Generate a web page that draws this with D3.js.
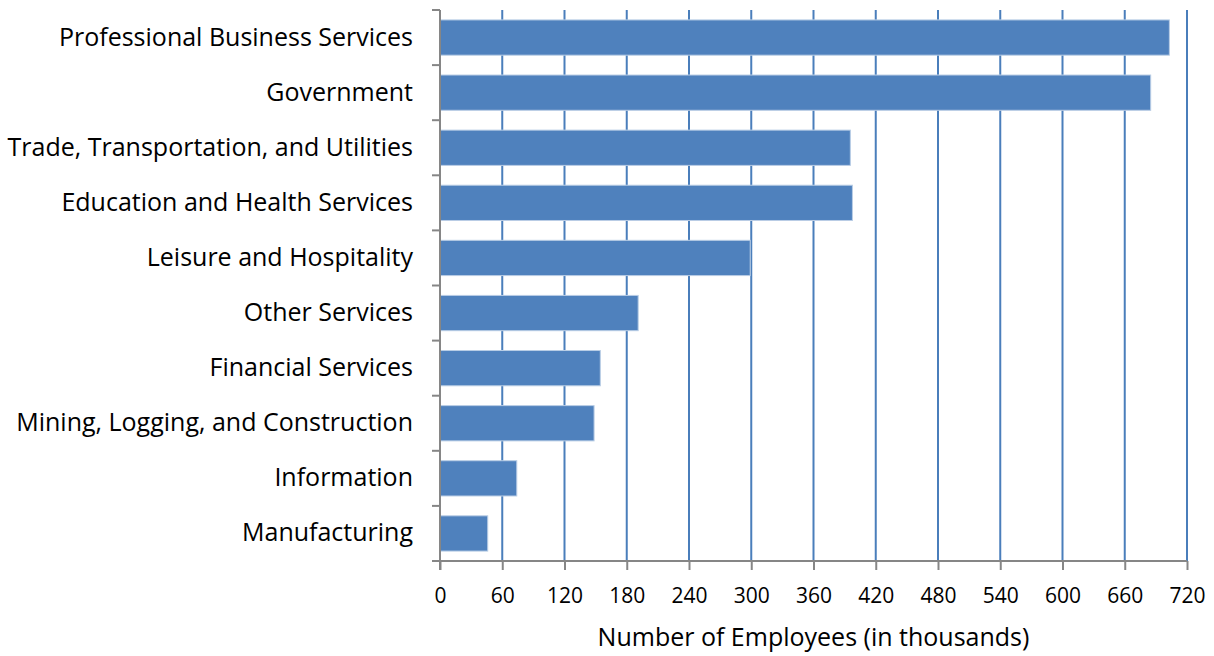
<!DOCTYPE html>
<html>
<head>
<meta charset="utf-8">
<script src="https://cdn.jsdelivr.net/npm/d3@7"></script>
<style>
  body { margin: 0; background: #fff; }
  text { font-family: "Open Sans", "Noto Sans", sans-serif; fill: #000; }
</style>
</head>
<body>
<div id="chart"></div>
<script>
var categories = ['Professional Business Services', 'Government', 'Trade, Transportation, and Utilities',
      'Education and Health Services', 'Leisure and Hospitality', 'Other Services', 'Financial Services',
      'Mining, Logging, and Construction', 'Information', 'Manufacturing'];
var employees = [703, 685, 395.5, 397.5, 299, 191, 154.5, 148.5, 74, 46];
var xTicks = [0, 60, 120, 180, 240, 300, 360, 420, 480, 540, 600, 660, 720];

var width = 1214;
var height = 656;
var plotLeft = 440, plotRight = 1187, plotTop = 10, plotBottom = 561;

var data = categories.map((c, i) => ({name: c, value: employees[i]}));

var svg = d3.select('#chart').append('svg')
      .attr('width', width)
      .attr('height', height);

var xScale = d3.scaleLinear()
      .domain([0, 720])
      .range([plotLeft, plotRight]);

var yScale = d3.scaleBand()
      .domain(categories)
      .range([plotTop, plotBottom])
      .paddingInner(0.36)
      .paddingOuter(0.18);

// vertical gridlines
svg.append('g')
      .selectAll('line')
      .data(xTicks.slice(1))
      .enter().append('line')
      .attr('x1', d => xScale(d))
      .attr('x2', d => xScale(d))
      .attr('y1', plotTop)
      .attr('y2', plotBottom)
      .attr('stroke', '#4a7ebb')
      .attr('stroke-width', 2);

// bars
svg.append('g')
      .selectAll('rect')
      .data(data)
      .enter().append('rect')
      .attr('x', xScale(0))
      .attr('y', d => yScale(d.name))
      .attr('width', d => xScale(d.value) - xScale(0))
      .attr('height', yScale.bandwidth())
      .attr('fill', '#4f81bd')
      .attr('stroke', '#b9cde5')
      .attr('stroke-width', 1);

// x axis
var xAxis = d3.axisBottom(xScale)
      .tickValues(xTicks)
      .tickSize(9)
      .tickPadding(18)
      .tickFormat(d3.format('d'));

var gx = svg.append('g')
      .attr('transform', 'translate(0,' + plotBottom + ')')
      .call(xAxis);
gx.select('.domain').attr('stroke', '#868686').attr('stroke-width', 2)
      .attr('d', 'M' + (plotLeft - 8) + ',0H' + plotRight);
gx.selectAll('.tick line').attr('stroke', '#868686').attr('stroke-width', 2);
gx.selectAll('.tick text').style('font-size', '21px').style('font-family', '"Open Sans", sans-serif');

// y axis: line plus ticks at category boundaries
var yAxis = d3.axisLeft(yScale).tickSize(0).tickPadding(27);
var gy = svg.append('g')
      .attr('transform', 'translate(' + plotLeft + ',0)')
      .call(yAxis);
gy.select('.domain').attr('stroke', '#868686').attr('stroke-width', 2)
      .attr('d', 'M0,' + plotTop + 'V' + (plotBottom + 9));
gy.selectAll('.tick text').style('font-size', '25px').style('font-family', '"Open Sans", sans-serif');

var bounds = d3.range(categories.length + 1).map(i => plotTop + i * (plotBottom - plotTop) / categories.length);
gy.selectAll('.bound')
      .data(bounds)
      .enter().append('line')
      .attr('class', 'bound')
      .attr('x1', -8)
      .attr('x2', 0)
      .attr('y1', d => d)
      .attr('y2', d => d)
      .attr('stroke', '#868686')
      .attr('stroke-width', 2);

// axis title
svg.append('text')
      .attr('x', (plotLeft + plotRight) / 2)
      .attr('y', 646)
      .style('text-anchor', 'middle')
      .style('font-size', '25px')
      .text('Number of Employees (in thousands)');
</script>
</body>
</html>
